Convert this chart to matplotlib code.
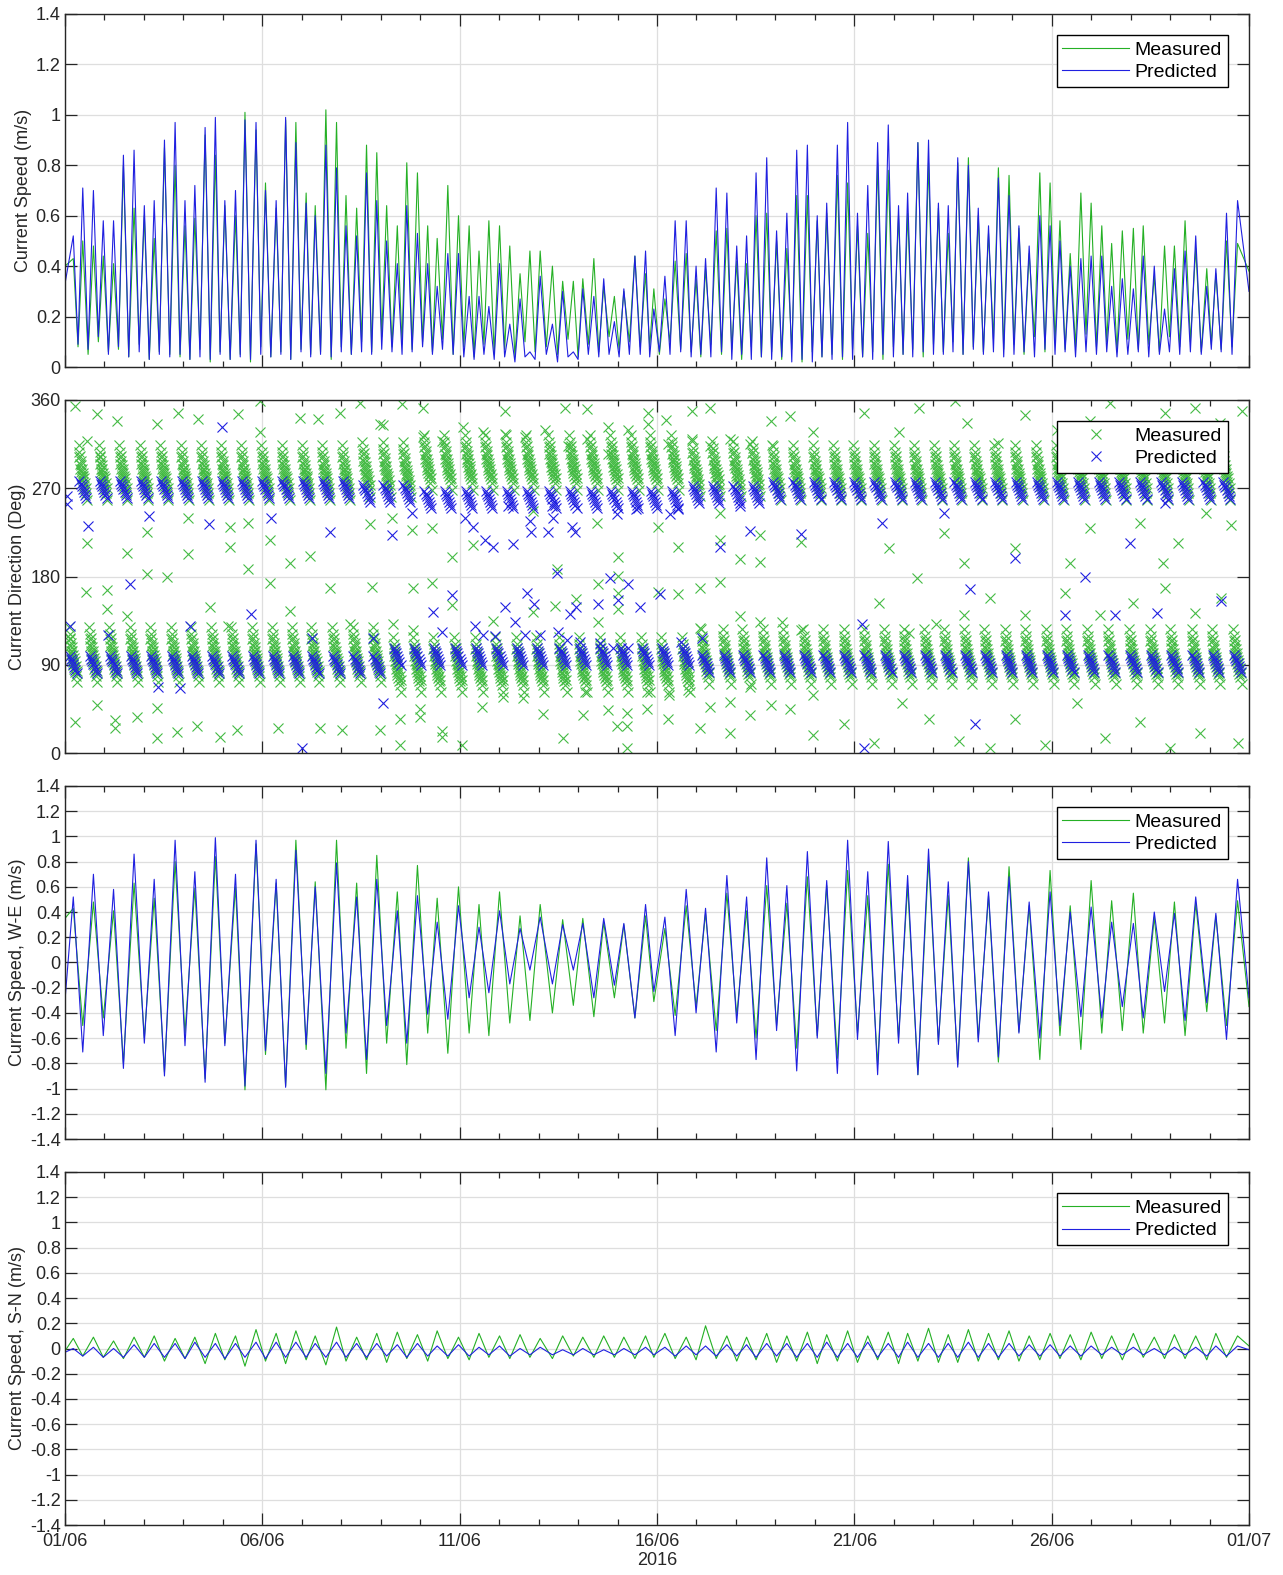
import numpy as np
import matplotlib
matplotlib.use("Agg")
from matplotlib import pyplot as plt
import matplotlib.dates as mdates

plt.rcParams['font.family'] = ['Liberation Sans', 'DejaVu Sans']

# ---- times (days after 01/06/2016 00:00) of the flood / ebb extremes
t_hi = [0.21, 0.72, 1.23, 1.75, 2.26, 2.79, 3.29, 3.81, 4.32, 4.84, 5.35, 5.85, 6.34, 6.88, 7.39,
        7.90, 8.42, 8.93, 9.43, 9.97, 10.49, 11.01, 11.53, 12.04, 12.61, 13.12, 13.65, 14.16, 14.71,
        15.20, 15.74, 16.23, 16.77, 17.27, 17.78, 18.29, 18.81, 19.30, 19.83, 20.34, 20.86, 21.35, 21.88, 22.38,
        22.89, 23.40, 23.92, 24.43, 24.96, 25.47, 26.00, 26.52, 27.07, 27.60, 28.11, 28.65, 29.16, 29.71]
t_lo = [0.45, 0.97, 1.48, 2.01, 2.52, 3.04, 3.55, 4.05, 4.56, 5.08, 5.59, 6.11, 6.61, 7.12,
        7.64, 8.15, 8.66, 9.19, 9.70, 10.24, 10.74, 11.27, 11.78, 12.35, 12.88, 13.40, 13.92, 14.44,
        14.92, 15.46, 15.99, 16.50, 17.02, 17.51, 18.03, 18.54, 19.06, 19.57, 20.08, 20.59, 21.12, 21.61, 22.13,
        22.62, 23.14, 23.65, 24.17, 24.70, 25.21, 25.74, 26.27, 26.79, 27.32, 27.86, 28.38, 28.93, 29.43]

# ---- W-E component (m/s): flood maxima / ebb minima
we_pred_hi = [0.52, 0.70, 0.58, 0.86, 0.66, 0.97, 0.72, 0.99, 0.70, 0.97, 0.66, 0.89, 0.60, 0.79, 0.52,
              0.66, 0.41, 0.53, 0.32, 0.45, 0.28, 0.41, 0.27, 0.36, 0.30, 0.31, 0.35, 0.31, 0.46,
              0.36, 0.58, 0.43, 0.69, 0.52, 0.83, 0.61, 0.88, 0.65, 0.97, 0.72, 0.96, 0.69, 0.90, 0.64,
              0.80, 0.56, 0.68, 0.48, 0.56, 0.40, 0.44, 0.32, 0.31, 0.40, 0.39, 0.52, 0.39, 0.66]
we_pred_lo = [-0.71, -0.58, -0.84, -0.64, -0.90, -0.66, -0.95, -0.66, -0.98, -0.70, -0.99, -0.65, -0.88, -0.56,
              -0.77, -0.50, -0.64, -0.41, -0.45, -0.28, -0.24, -0.17, -0.06, -0.17, -0.06, -0.28, -0.18, -0.44,
              -0.23, -0.58, -0.40, -0.71, -0.48, -0.77, -0.54, -0.86, -0.60, -0.88, -0.61, -0.89, -0.64, -0.89, -0.65,
              -0.83, -0.63, -0.75, -0.56, -0.60, -0.50, -0.43, -0.44, -0.35, -0.44, -0.23, -0.46, -0.32, -0.61]
we_meas_hi = [0.43, 0.48, 0.41, 0.63, 0.51, 0.80, 0.59, 0.84, 0.60, 0.94, 0.63, 0.97, 0.64, 0.97, 0.63,
              0.85, 0.56, 0.77, 0.51, 0.60, 0.46, 0.56, 0.37, 0.46, 0.34, 0.35, 0.32, 0.30, 0.37,
              0.27, 0.45, 0.39, 0.55, 0.41, 0.61, 0.47, 0.68, 0.61, 0.73, 0.53, 0.78, 0.61, 0.81, 0.53,
              0.83, 0.53, 0.76, 0.45, 0.73, 0.45, 0.65, 0.49, 0.55, 0.36, 0.48, 0.47, 0.37, 0.49]
we_meas_lo = [-0.50, -0.44, -0.80, -0.60, -0.87, -0.56, -0.92, -0.64, -1.01, -0.73, -0.98, -0.69, -1.01, -0.68,
              -0.88, -0.64, -0.81, -0.56, -0.72, -0.56, -0.58, -0.48, -0.46, -0.40, -0.34, -0.43, -0.28, -0.44,
              -0.31, -0.42, -0.35, -0.54, -0.42, -0.60, -0.50, -0.68, -0.58, -0.76, -0.56, -0.81, -0.60, -0.89, -0.63,
              -0.81, -0.60, -0.79, -0.55, -0.77, -0.58, -0.69, -0.56, -0.54, -0.56, -0.48, -0.58, -0.39, -0.50]
we_pred_ends = [-0.30, -0.28]
we_meas_ends = [0.35, -0.35]

# ---- speed (m/s): peaks in time order (flood, ebb, flood, ...) and slack minima between them
spd_pred_pk = [0.52, 0.71, 0.70, 0.58, 0.58, 0.84, 0.86, 0.64, 0.66, 0.90, 0.97, 0.66, 0.72, 0.95, 0.99,
               0.66, 0.70, 0.98, 0.97, 0.70, 0.66, 0.99, 0.89, 0.65, 0.60, 0.88, 0.79, 0.56, 0.52,
               0.77, 0.66, 0.50, 0.41, 0.64, 0.53, 0.41, 0.32, 0.45, 0.45, 0.28, 0.28, 0.24, 0.41, 0.17,
               0.27, 0.06, 0.36, 0.17, 0.30, 0.06, 0.31, 0.28, 0.35, 0.18, 0.31, 0.44, 0.46,
               0.23, 0.36, 0.58, 0.58, 0.40, 0.43, 0.71, 0.69, 0.48, 0.52, 0.77, 0.83, 0.54, 0.61, 0.86,
               0.88, 0.60, 0.65, 0.88, 0.97, 0.61, 0.72, 0.89, 0.96, 0.64, 0.69, 0.89, 0.90, 0.65, 0.64,
               0.83, 0.80, 0.63, 0.56, 0.75, 0.68, 0.56, 0.48, 0.60, 0.56, 0.50, 0.40, 0.43, 0.44,
               0.44, 0.32, 0.35, 0.31, 0.44, 0.40, 0.23, 0.39, 0.46, 0.52, 0.32, 0.39, 0.61, 0.66]
spd_meas_pk = [0.43, 0.50, 0.48, 0.44, 0.41, 0.80, 0.63, 0.60, 0.51, 0.87, 0.80, 0.56, 0.59, 0.92, 0.84,
               0.64, 0.60, 1.01, 0.94, 0.73, 0.63, 0.98, 0.97, 0.69, 0.64, 1.02, 0.97, 0.68, 0.63,
               0.88, 0.85, 0.64, 0.56, 0.81, 0.77, 0.56, 0.51, 0.72, 0.60, 0.56, 0.46, 0.58, 0.56, 0.48,
               0.37, 0.46, 0.46, 0.40, 0.34, 0.34, 0.35, 0.43, 0.32, 0.28, 0.30, 0.44, 0.37,
               0.31, 0.27, 0.42, 0.45, 0.35, 0.39, 0.54, 0.55, 0.42, 0.41, 0.60, 0.61, 0.50, 0.47, 0.68,
               0.68, 0.58, 0.61, 0.76, 0.73, 0.56, 0.53, 0.81, 0.78, 0.60, 0.61, 0.89, 0.81, 0.63, 0.53,
               0.81, 0.83, 0.60, 0.53, 0.79, 0.76, 0.55, 0.45, 0.77, 0.73, 0.58, 0.45, 0.69, 0.65,
               0.56, 0.49, 0.54, 0.55, 0.56, 0.36, 0.48, 0.48, 0.58, 0.47, 0.39, 0.37, 0.50, 0.49]
spd_pred_sl = [0.09, 0.07, 0.12, 0.05, 0.08, 0.04, 0.06, 0.03, 0.05, 0.04, 0.05, 0.03, 0.04, 0.03,
               0.05, 0.03, 0.04, 0.03, 0.05, 0.04, 0.05, 0.03, 0.06, 0.04, 0.05, 0.04, 0.06, 0.05,
               0.06, 0.05, 0.07, 0.06, 0.05, 0.06, 0.08, 0.05, 0.07, 0.05, 0.04, 0.03, 0.05, 0.03,
               0.04, 0.02, 0.04, 0.03, 0.05, 0.02, 0.04, 0.03, 0.05, 0.04, 0.05, 0.04, 0.05, 0.05,
               0.04, 0.06, 0.05, 0.06, 0.04, 0.05, 0.04, 0.06, 0.03, 0.05, 0.03, 0.04, 0.03, 0.04,
               0.02, 0.03, 0.02, 0.04, 0.03, 0.04, 0.03, 0.04, 0.03, 0.05, 0.04, 0.05, 0.04, 0.06, 0.05,
               0.05, 0.06, 0.05, 0.07, 0.05, 0.06, 0.04, 0.05, 0.06, 0.04, 0.07, 0.05, 0.06, 0.04,
               0.06, 0.05, 0.06, 0.04, 0.05, 0.06, 0.04, 0.05, 0.06, 0.05, 0.06, 0.05, 0.07, 0.06, 0.05]
spd_meas_sl = [0.08, 0.05, 0.10, 0.06, 0.07, 0.04, 0.09, 0.03, 0.06, 0.05, 0.04, 0.03, 0.07, 0.02,
               0.06, 0.03, 0.05, 0.02, 0.08, 0.04, 0.06, 0.03, 0.07, 0.05, 0.06, 0.03, 0.08, 0.05,
               0.10, 0.06, 0.12, 0.08, 0.09, 0.07, 0.10, 0.06, 0.11, 0.05, 0.08, 0.04, 0.09, 0.05,
               0.07, 0.04, 0.10, 0.06, 0.08, 0.05, 0.11, 0.04, 0.09, 0.06, 0.12, 0.07, 0.10, 0.08,
               0.08, 0.05, 0.10, 0.07, 0.06, 0.04, 0.09, 0.05, 0.07, 0.03, 0.08, 0.04, 0.06, 0.03,
               0.07, 0.02, 0.06, 0.04, 0.05, 0.03, 0.07, 0.04, 0.06, 0.03, 0.08, 0.05, 0.07, 0.04, 0.09,
               0.06, 0.10, 0.05, 0.08, 0.06, 0.11, 0.07, 0.09, 0.05, 0.12, 0.06, 0.10, 0.07, 0.08,
               0.13, 0.08, 0.10, 0.06, 0.11, 0.07, 0.09, 0.06, 0.12, 0.08, 0.10, 0.06, 0.09, 0.07, 0.08]
spd_pred_ends = [0.33, 0.30]
spd_meas_ends = [0.40, 0.38]

# ---- S-N component (m/s)
sn_pred_hi = [0.00, 0.01, 0.00, 0.03, 0.04, 0.04, 0.05, 0.04, 0.04, 0.05, 0.05, 0.05, 0.04, 0.05, 0.04,
              0.04, 0.03, 0.04, 0.02, 0.03, 0.01, 0.02, 0.00, 0.01, -0.01, 0.00, -0.01, 0.00, 0.01,
              0.01, 0.02, 0.02, 0.03, 0.03, 0.04, 0.04, 0.04, 0.05, 0.04, 0.05, 0.04, 0.05, 0.04, 0.04,
              0.05, 0.04, 0.04, 0.03, 0.03, 0.02, 0.02, 0.01, 0.01, 0.00, 0.01, 0.01, 0.02, 0.02]
sn_pred_lo = [-0.06, -0.07, -0.07, -0.07, -0.07, -0.08, -0.07, -0.08, -0.07, -0.08, -0.07, -0.07, -0.07, -0.07,
              -0.07, -0.06, -0.07, -0.06, -0.06, -0.06, -0.05, -0.06, -0.05, -0.05, -0.05, -0.05, -0.05, -0.05,
              -0.05, -0.06, -0.05, -0.06, -0.06, -0.07, -0.06, -0.07, -0.07, -0.07, -0.07, -0.07, -0.07, -0.07, -0.07,
              -0.07, -0.07, -0.07, -0.06, -0.06, -0.06, -0.06, -0.05, -0.05, -0.05, -0.05, -0.05, -0.06, -0.06]
sn_meas_hi = [0.08, 0.09, 0.06, 0.09, 0.10, 0.08, 0.09, 0.12, 0.10, 0.15, 0.12, 0.14, 0.10, 0.17, 0.09,
              0.12, 0.13, 0.11, 0.14, 0.09, 0.12, 0.10, 0.11, 0.08, 0.10, 0.09, 0.10, 0.09, 0.10,
              0.12, 0.09, 0.18, 0.10, 0.09, 0.12, 0.10, 0.13, 0.11, 0.14, 0.10, 0.13, 0.12, 0.16, 0.11,
              0.15, 0.12, 0.14, 0.10, 0.12, 0.11, 0.13, 0.10, 0.12, 0.09, 0.11, 0.10, 0.12, 0.10]
sn_meas_lo = [-0.06, -0.07, -0.08, -0.07, -0.10, -0.08, -0.12, -0.09, -0.14, -0.10, -0.12, -0.09, -0.13, -0.10,
              -0.09, -0.11, -0.08, -0.10, -0.08, -0.09, -0.07, -0.08, -0.07, -0.08, -0.06, -0.07, -0.07, -0.08,
              -0.07, -0.08, -0.09, -0.08, -0.10, -0.09, -0.11, -0.10, -0.12, -0.10, -0.11, -0.09, -0.12, -0.10, -0.11,
              -0.11, -0.10, -0.09, -0.10, -0.09, -0.08, -0.09, -0.08, -0.09, -0.07, -0.08, -0.08, -0.09, -0.07]
sn_pred_ends = [-0.03, -0.01]
sn_meas_ends = [-0.02, 0.02]

# ---- direction: one typical flood/ebb cluster (hours from peak flow, offset from cluster heading)
clu_meas_h = [-2.5, -2.3, -2.1, -1.9, -1.7, -1.5, -1.3, -1.1, -0.9, -0.7, -0.5, -0.3, -0.1, 0.1, 0.3,
              0.5, 0.8, 1.1, 1.4, 1.7, 2.0, 2.4]
clu_meas_d = [36, 24, 29, 17, 25, 12, 20, 9, 16, 4, 12, 1, 8, -2, 5, -6, 2, -9, -3, -13, -8, -20]
clu_pred_h = [-2.0, -1.3, -0.7, 0.0, 0.7, 1.3, 2.0]
clu_pred_d = [9, 6, 4, 1, -2, -5, -8]
# mean heading of each flood (at t_hi) and ebb (at t_lo) cluster
head_meas_fl = [92] * 16 + [82] * 15 + [90] * 27
head_pred_fl = [90] * 16 + [98] * 15 + [91] * 27
head_meas_eb = [278] * 14 + [281] * 3 + [288] * 13 + [282] * 4 + [278] * 23
head_pred_eb = [268] * 14 + [264] * 3 + [258] * 13 + [263] * 4 + [267] * 23

# scattered direction readings (day, deg) away from the clusters
out_meas_t = [0.25, 0.56, 0.81, 0.56, 0.53, 1.06, 1.06, 0.25, 0.81, 1.32, 1.57, 1.57, 1.27, 1.27, 1.82,
              2.08, 2.08, 2.33, 2.33, 2.33, 2.58, 2.86, 2.84, 3.12, 3.12, 3.37, 3.34, 3.67, 3.93, 4.18,
              4.18, 4.13, 4.38, 4.36, 4.64, 4.64, 4.94, 4.94, 5.19, 5.19, 5.40, 5.70, 5.70, 5.95, 6.21,
              6.41, 6.46, 6.71, 6.97, 7.02, 7.22, 7.47, 7.73, 7.78, 7.98, 7.98,
              8.53, 8.07, 9.08, 9.08, 9.54, 10.09, 10.60, 11.15, 11.15, 11.65, 12.16, 12.67, 13.22, 12.75,
              13.22, 13.77, 13.77, 14.27, 14.78, 14.78, 15.24, 15.29, 15.88, 15.88, 16.34, 16.34, 16.85,
              17.35, 17.90, 18.37, 17.95, 18.96,
              8.28, 8.78, 9.29, 9.80, 10.34, 11.87, 12.46, 13.47, 14.02, 15.03, 15.54, 16.59, 17.10,
              17.61, 17.61, 18.66, 16.59,
              8.83, 9.29, 9.80, 8.32, 8.83, 10.85, 11.87, 12.41, 12.96, 13.51, 13.51, 14.02, 14.02, 14.02,
              15.03, 15.54, 16.09, 16.59, 17.10, 17.61, 18.16, 18.66, 16.09,
              8.49, 8.99, 8.99, 9.54, 9.54, 8.49, 10.05, 10.56, 11.10, 11.61, 12.12, 12.62, 13.13, 13.18,
              13.77, 13.98, 14.23, 14.23, 14.23, 14.74, 14.74, 15.29, 15.31, 15.79, 16.09, 16.34, 16.85,
              16.85, 17.35, 17.35, 17.90, 18.37, 18.96, 18.96,
              20.24, 21.14, 21.64, 22.54, 22.86, 23.63, 24.32, 25.13, 25.97, 26.48, 27.12, 27.88, 28.64,
              29.26, 29.81,
              20.88, 21.59, 22.28, 22.79, 24.06, 25.46, 25.97, 27.24, 27.83, 28.19, 28.90, 29.54,
              20.62, 21.39, 22.08, 22.79, 23.43, 24.32, 25.34, 26.23, 27.07, 27.88, 28.64, 29.28,
              19.74, 20.50, 21.21, 21.90, 22.66, 23.43, 24.06, 24.83, 25.64, 26.35, 27.24, 28.01, 28.77, 29.71]
out_meas_d = [354, 318, 346, 214, 164, 166, 147, 32, 49, 339, 140, 204, 34, 26, 37,
              183, 225, 336, 46, 15, 179, 347, 21, 240, 203, 341, 28, 149, 16, 230,
              210, 130, 346, 23, 235, 188, 359, 327, 217, 173, 25, 194, 145, 342, 201,
              341, 26, 168, 347, 23, 132, 357, 234, 169, 336, 23,
              356, 335, 352, 322, 318, 332, 327, 349, 325, 322, 329, 352, 351, 313,
              320, 332, 305, 329, 347, 336, 340, 315, 349, 320, 352, 313, 320,
              315, 339, 344, 313, 327,
              240, 227, 229, 200, 212, 247, 188, 235, 200, 230, 210, 217, 198,
              222, 195, 215, 245,
              168, 173, 151, 132, 125, 135, 144, 150, 157, 172, 134, 181, 163, 147,
              164, 162, 168, 174, 140, 134, 134, 125, 127,
              35, 45, 37, 22, 16, 8, 8, 47, 57, 56, 40, 15, 39, 62,
              44, 28, 28, 41, 5, 45, 62, 35, 59, 64, 25, 47, 20,
              52, 67, 39, 49, 45, 18, 59,
              347, 327, 352, 359, 337, 316, 345, 329, 339, 357, 327, 347, 352,
              337, 349,
              209, 178, 224, 194, 209, 194, 229, 235, 194, 214, 245, 233,
              153, 122, 132, 141, 158, 141, 163, 141, 153, 168, 143, 158,
              30, 10, 51, 35, 12, 5, 35, 8, 51, 15, 32, 5, 20, 10]
out_pred_t = [0.05, 0.05, 0.58, 0.13, 1.09, 1.65, 2.13, 2.36, 2.91, 3.17, 3.65, 3.98, 4.71, 5.22, 6.00,
              6.26, 6.71, 7.80, 8.06, 8.28,
              8.80, 9.33, 9.80, 9.54, 10.13, 10.34, 10.64, 10.85, 11.36, 10.39, 10.60, 10.89, 11.15,
              11.40, 11.70, 11.88, 11.65, 11.78, 11.82, 12.25, 12.37, 12.46, 12.50, 12.84, 12.92, 12.79,
              12.96, 13.51, 13.81, 14.02, 14.27, 14.57, 15.07, 15.33, 16.59, 17.35, 18.66, 16.13, 15.62,
              11.22, 12.33, 13.98, 14.48, 15.54, 17.10, 12.03, 12.71, 13.05, 13.55, 13.89, 14.27,
              20.19, 20.24, 20.70, 22.94, 22.28, 24.06, 25.34, 25.84, 26.61, 26.99, 27.68, 27.88, 29.28, 23.05]
out_pred_d = [262, 254, 232, 130, 120, 172, 242, 67, 66, 130, 234, 332, 142, 240, 5,
              117, 225, 117, 51, 222,
              245, 144, 161, 123, 240, 230, 217, 210, 213, 130, 120, 119, 149,
              134, 163, 152, 120, 237, 225, 225, 240, 184, 123, 230, 225, 142,
              149, 152, 178, 156, 172, 149, 162, 244, 210, 226, 223, 117, 113,
              252, 252, 244, 249, 249, 252, 120, 115, 113, 112, 107, 107,
              132, 5, 235, 167, 245, 199, 141, 180, 141, 214, 143, 255, 155, 30]

GREEN = '#25b025'
MGREEN = '#45bb45'
BLUE = '#2020e0'
INK = '#262626'
FS_TICK, FS_LAB = 13, 13
T0 = np.datetime64('2016-06-01T00:00')


def as_time(days):
    return T0 + np.round(np.asarray(days, float) * 86400).astype('timedelta64[s]')


def extremes(hi, lo, ends):
    t = np.r_[0.0, t_hi, t_lo, 30.0]
    v = np.r_[ends[0], hi, lo, ends[1]]
    o = np.argsort(t)
    return as_time(t[o]), v[o]


def speed_line(pk, sl, ends):
    t_pk = np.sort(np.r_[t_hi, t_lo])
    t_sl = (t_pk[:-1] + t_pk[1:]) / 2
    t = np.r_[0.0, t_pk, t_sl, 30.0]
    v = np.r_[ends[0], pk, sl, ends[1]]
    o = np.argsort(t)
    return as_time(t[o]), v[o]


def cloud(hw_times, headings, dh, dd):
    tt = np.add.outer(np.asarray(hw_times), np.asarray(dh) / 24.0).ravel()
    aa = np.add.outer(np.asarray(headings, float), dd).ravel() % 360
    keep = (tt >= 0) & (tt <= 30)
    return tt[keep], aa[keep]


def tidy(ax, lo, hi, ticks):
    ax.set_xlim(as_time(0), as_time(30))
    ax.set_ylim(lo, hi)
    ax.set_yticks(ticks)
    ax.set_yticklabels(['%g' % round(v, 1) if abs(v) > 1e-9 else '0' for v in ticks])
    ax.xaxis.set_major_locator(mdates.DayLocator(bymonthday=[1, 6, 11, 16, 21, 26]))
    ax.xaxis.set_minor_locator(mdates.DayLocator())
    ax.xaxis.set_major_formatter(mdates.DateFormatter('%d/%m'))
    ax.tick_params(which='both', direction='in', top=True, right=True, color=INK,
                   labelcolor=INK, labelsize=FS_TICK, width=0.9)
    ax.tick_params(which='major', length=8.5)
    ax.tick_params(which='minor', length=4.5)
    ax.tick_params(axis='x', pad=6)
    ax.tick_params(axis='y', pad=3)
    ax.grid(True, which='major', color='#dedede', lw=0.9)
    ax.set_axisbelow(True)
    for s in ax.spines.values():
        s.set_color(INK)
        s.set_linewidth(1.0)


fig = plt.figure(figsize=(12.83, 15.75), dpi=100)
L, W, H = 65 / 1283, 1184 / 1283, 353 / 1575
ax1 = fig.add_axes([L, 1 - 367 / 1575, W, H])
ax2 = fig.add_axes([L, 1 - 753 / 1575, W, H])
ax3 = fig.add_axes([L, 1 - 1139 / 1575, W, H])
ax4 = fig.add_axes([L, 1 - 1525 / 1575, W, H])

leg_kw = dict(loc='upper right', fontsize=14, frameon=True, fancybox=False, edgecolor='black',
              framealpha=1, borderaxespad=1.1, handlelength=3.4, handletextpad=0.3, borderpad=0.3,
              labelspacing=0.25)

# speed
t, v = speed_line(spd_meas_pk, spd_meas_sl, spd_meas_ends)
ax1.plot(t, v, color=GREEN, lw=0.8, label='Measured')
t, v = speed_line(spd_pred_pk, spd_pred_sl, spd_pred_ends)
ax1.plot(t, v, color=BLUE, lw=0.8, label='Predicted')
tidy(ax1, 0, 1.4, np.arange(0, 1.41, 0.2))
ax1.set_ylabel('Current Speed (m/s)', fontsize=FS_LAB, color=INK, labelpad=3)
ax1.legend(**leg_kw)

# direction
mk = dict(marker='x', ls='none', ms=6.5, mew=0.8)
tf, af = cloud(t_hi, head_meas_fl, clu_meas_h, clu_meas_d)
te, ae = cloud(t_lo, head_meas_eb, clu_meas_h, clu_meas_d)
tm = np.r_[tf, te, out_meas_t]
am = np.r_[af, ae, out_meas_d]
ax2.plot(as_time(tm), am, color=MGREEN, label='Measured', **mk)
tf, af = cloud(t_hi, head_pred_fl, clu_pred_h, clu_pred_d)
te, ae = cloud(t_lo, head_pred_eb, clu_pred_h, clu_pred_d)
tp = np.r_[tf, te, out_pred_t]
ap = np.r_[af, ae, out_pred_d]
ax2.plot(as_time(tp), ap, color=BLUE, label='Predicted', **mk)
tidy(ax2, 0, 360, [0, 90, 180, 270, 360])
ax2.set_ylabel('Current Direction (Deg)', fontsize=FS_LAB, color=INK, labelpad=3)
ax2.legend(**leg_kw)

# W-E
t, v = extremes(we_meas_hi, we_meas_lo, we_meas_ends)
ax3.plot(t, v, color=GREEN, lw=0.8, label='Measured')
t, v = extremes(we_pred_hi, we_pred_lo, we_pred_ends)
ax3.plot(t, v, color=BLUE, lw=0.8, label='Predicted')
tidy(ax3, -1.4, 1.4, np.arange(-1.4, 1.41, 0.2))
ax3.set_ylabel('Current Speed, W-E (m/s)', fontsize=FS_LAB, color=INK, labelpad=3)
ax3.legend(**leg_kw)

# S-N
t, v = extremes(sn_meas_hi, sn_meas_lo, sn_meas_ends)
ax4.plot(t, v, color=GREEN, lw=0.8, label='Measured')
t, v = extremes(sn_pred_hi, sn_pred_lo, sn_pred_ends)
ax4.plot(t, v, color=BLUE, lw=0.8, label='Predicted')
tidy(ax4, -1.4, 1.4, np.arange(-1.4, 1.41, 0.2))
ax4.set_ylabel('Current Speed, S-N (m/s)', fontsize=FS_LAB, color=INK, labelpad=3)
ax4.set_xlabel('2016', fontsize=FS_TICK, color=INK, labelpad=1)
ax4.legend(**leg_kw)

for ax in (ax1, ax2, ax3):
    ax.tick_params(labelbottom=False)

fig.savefig('out.png', dpi=100)
